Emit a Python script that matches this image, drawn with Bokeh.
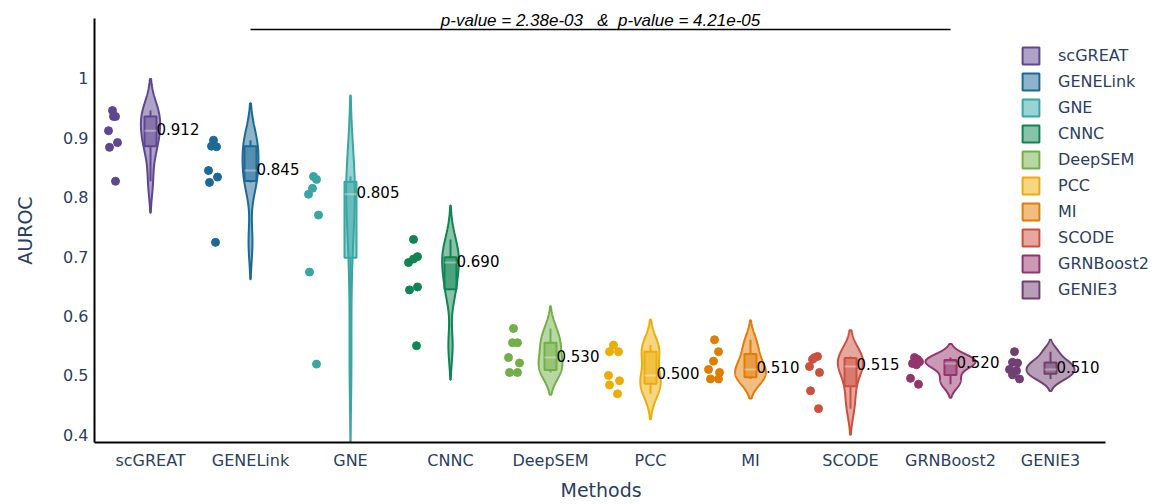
import numpy as np
from bokeh.plotting import figure
from bokeh.models import Range1d, FixedTicker, Legend, LegendItem, Label, Title
from bokeh.embed import file_html
from bokeh.resources import INLINE
from bokeh.core.properties import value

# ---------------- data ----------------
methods = ["scGREAT", "GENELink", "GNE", "CNNC", "DeepSEM", "PCC", "MI", "SCODE", "GRNBoost2", "GENIE3"]
colors = ["#5F4690", "#1D6996", "#38A6A5", "#0F8554", "#73AF48",
          "#EDAD08", "#E17C05", "#CC503E", "#94346E", "#6F4070"]

scGREAT = [0.946, 0.936, 0.936, 0.912, 0.892, 0.884, 0.827]
GENELink = [0.896, 0.886, 0.885, 0.845, 0.834, 0.825, 0.724]
GNE = [0.835, 0.830, 0.815, 0.805, 0.770, 0.674, 0.519]
CNNC = [0.729, 0.700, 0.696, 0.690, 0.649, 0.644, 0.550]
DeepSEM = [0.579, 0.555, 0.555, 0.530, 0.521, 0.505, 0.505]
PCC = [0.551, 0.540, 0.540, 0.500, 0.491, 0.484, 0.469]
MI = [0.560, 0.540, 0.524, 0.510, 0.505, 0.494, 0.494]
SCODE = [0.532, 0.530, 0.527, 0.515, 0.505, 0.474, 0.444]
GRNBoost2 = [0.530, 0.527, 0.523, 0.520, 0.518, 0.495, 0.485]
GENIE3 = [0.540, 0.522, 0.521, 0.510, 0.508, 0.501, 0.494]
series = [scGREAT, GENELink, GNE, CNNC, DeepSEM, PCC, MI, SCODE, GRNBoost2, GENIE3]

y_ticks = [0.4, 0.5, 0.6, 0.7, 0.8, 0.9, 1.0]
y_tick_labels = ["0.4", "0.5", "0.6", "0.7", "0.8", "0.9", "1"]
annotation_text = "p-value = 2.38e-03\u00a0\u00a0 &\u00a0 p-value = 4.21e-05"
x_title = "Methods"
y_title = "AUROC"

# horizontal jitter of the sample points (category units)
point_offsets = [
    [-0.38, -0.37, -0.35, -0.42, -0.33, -0.41, -0.35],
    [-0.37, -0.39, -0.34, -0.42, -0.33, -0.41, -0.35],
    [-0.37, -0.34, -0.38, -0.42, -0.32, -0.41, -0.34],
    [-0.37, -0.33, -0.37, -0.42, -0.33, -0.41, -0.34],
    [-0.37, -0.38, -0.33, -0.42, -0.31, -0.41, -0.33],
    [-0.37, -0.41, -0.32, -0.42, -0.31, -0.41, -0.33],
    [-0.36, -0.32, -0.37, -0.42, -0.31, -0.40, -0.32],
    [-0.33, -0.36, -0.38, -0.41, -0.31, -0.40, -0.32],
    [-0.36, -0.33, -0.31, -0.38, -0.34, -0.40, -0.32],
    [-0.36, -0.38, -0.33, -0.41, -0.34, -0.38, -0.31],
]

# ---------------- helpers ----------------
def quartile(v, p):
    s = np.sort(np.asarray(v, float))
    n = len(s)
    pos = min(max(n * p - 0.5, 0.0), n - 1.0)
    lo = int(np.floor(pos))
    hi = min(lo + 1, n - 1)
    return s[lo] + (pos - lo) * (s[hi] - s[lo])


def stats(v):
    a = np.asarray(v, float)
    q1, q3 = quartile(a, 0.25), quartile(a, 0.75)
    iqr = q3 - q1
    bw = 1.059 * min(a.std(), iqr / 1.349) * len(a) ** -0.2
    lo_f, hi_f = q1 - 1.5 * iqr, q3 + 1.5 * iqr
    wlo = a[a >= lo_f].min()
    whi = a[a <= hi_f].max()
    return q1, float(np.median(a)), q3, wlo, whi, bw


def kde(v, bw):
    a = np.asarray(v, float)
    ys = np.linspace(a.min() - 2 * bw, a.max() + 2 * bw, 300)
    d = np.exp(-0.5 * ((ys[:, None] - a[None, :]) / bw) ** 2).sum(1) / (len(a) * bw * np.sqrt(2 * np.pi))
    return ys, d


all_stats = [stats(v) for v in series]
kdes = [kde(v, s[5]) for v, s in zip(series, all_stats)]
dmax = max(d.max() for _, d in kdes)
HALF = 0.25
BOXW = 0.06

X0, X1 = -0.56, 9.55          # extent of the categorical axis
XEND = 10.05                  # frame continues under the legend
Y0, Y1 = 0.387, 1.101         # extent of the value axis
YEND = 1.1313                 # frame continues above the axis for the annotation
BAR_Y = 1.0824

# ---------------- figure ----------------
p = figure(width=1155, height=504, x_range=Range1d(X0, XEND), y_range=Range1d(Y0, YEND),
           output_backend="svg", toolbar_location=None,
           min_border_left=94, min_border_right=0, min_border_top=0, min_border_bottom=62)
p.outline_line_color = None
p.xgrid.visible = False
p.ygrid.visible = False
p.background_fill_color = "white"

legend_items = []
for i, (m, c, v) in enumerate(zip(methods, colors, series)):
    ys, d = kdes[i]
    w = HALF * d / dmax
    xs = np.concatenate([i - w, (i + w)[::-1]])
    yy = np.concatenate([ys, ys[::-1]])
    r = p.patch(xs, yy, fill_color=c, fill_alpha=0.5, line_color=c, line_width=2)
    legend_items.append(LegendItem(label=m, renderers=[r]))

    q1, med, q3, wlo, whi, bw = all_stats[i]
    p.segment(x0=[i, i], y0=[q3, q1], x1=[i, i], y1=[whi, wlo], line_color=c, line_width=2)
    p.quad(left=[i - BOXW], right=[i + BOXW], bottom=[q1], top=[q3],
           fill_color=c, fill_alpha=0.5, line_color=c, line_width=2)
    p.segment(x0=[i - BOXW], y0=[med], x1=[i + BOXW], y1=[med],
              line_color="white", line_alpha=0.35, line_width=2)

    p.scatter(x=[i + o for o in point_offsets[i]], y=v, size=8, color=c)

    p.text(x=[i], y=[med], text=["%.3f" % med], x_offset=6, y_offset=-2,
           text_baseline="middle", text_align="left",
           text_font=value("DejaVu Sans"), text_font_size="15px", text_color="black")

# significance bar
p.segment(x0=[1], y0=[BAR_Y], x1=[8], y1=[BAR_Y], line_color="black", line_width=1.5)
p.add_layout(Label(x=4.5, y=BAR_Y + 0.015, text=annotation_text, text_align="center",
                   text_baseline="alphabetic",
                   text_font="Liberation Sans", text_font_style="italic",
                   text_font_size="17px", text_color="black"))

# axes
p.xaxis.ticker = FixedTicker(ticks=list(range(len(methods))))
p.xaxis.major_label_overrides = {i: m for i, m in enumerate(methods)}
p.xaxis.bounds = (X0, X1)
p.yaxis.ticker = FixedTicker(ticks=y_ticks)
p.yaxis.major_label_overrides = {t: l for t, l in zip(y_ticks, y_tick_labels)}
p.yaxis.bounds = (Y0, Y1)
for ax in (p.xaxis, p.yaxis):
    ax.axis_line_color = "black"
    ax.axis_line_width = 2
    ax.major_tick_line_color = None
    ax.minor_tick_line_color = None
    ax.major_tick_out = 0
    ax.major_tick_in = 0
    ax.minor_tick_out = 0
    ax.minor_tick_in = 0
    ax.major_label_text_font = "DejaVu Sans"
    ax.major_label_text_font_size = "16px"
    ax.major_label_text_color = "#2a3f5f"
    ax.axis_label_text_font = "DejaVu Sans"
    ax.axis_label_text_font_size = "19px"
    ax.axis_label_text_font_style = "normal"
    ax.axis_label_text_color = "#2a3f5f"
# trailing no-break spaces keep the title centred on the value axis, not on the taller frame
p.yaxis.axis_label = y_title + "\u00a0\u00a0\u00a0"
p.xaxis.major_label_standoff = 8
p.yaxis.major_label_standoff = 6
p.yaxis.axis_label_standoff = 24

# x-axis title centred under the categorical axis (not under the legend)
p.add_layout(Title(text=x_title, align="left", offset=466, standoff=8,
                   text_font="DejaVu Sans", text_font_size="19px",
                   text_font_style="normal", text_color="#2a3f5f"), "below")

legend = Legend(items=legend_items, location=(926, 142), orientation="vertical",
                glyph_width=21, glyph_height=21, label_height=21, spacing=5,
                label_standoff=17, padding=0, margin=0,
                border_line_alpha=0, background_fill_alpha=0,
                label_text_font="DejaVu Sans", label_text_font_size="16px",
                label_text_color="#2a3f5f")
p.add_layout(legend, "center")

open("out.html", "w").write(file_html(p, INLINE))
